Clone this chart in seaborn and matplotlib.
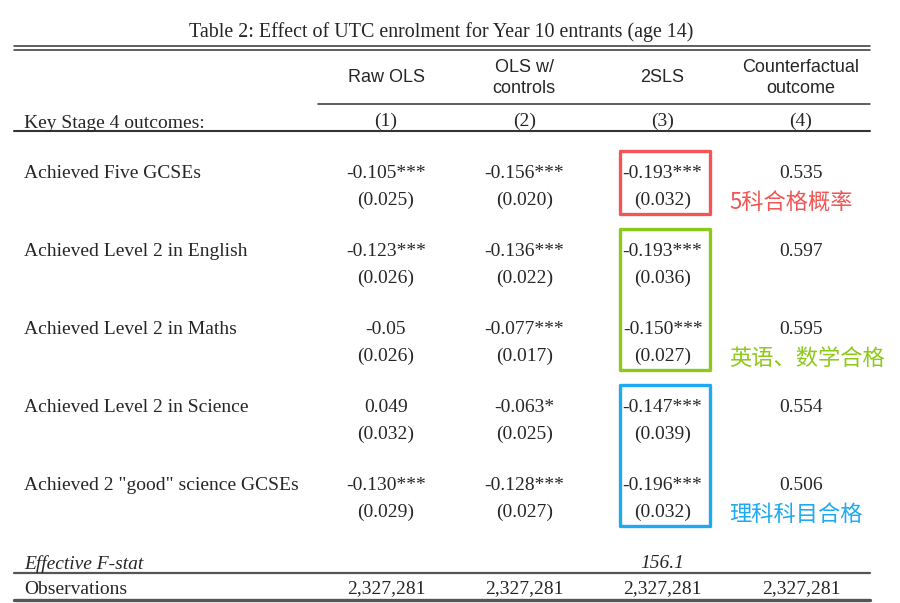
import matplotlib
matplotlib.use("Agg")
import matplotlib.pyplot as plt
import seaborn as sns
import pandas as pd
from matplotlib.patches import Rectangle

sns.set_theme(style="white")
plt.rcParams['font.family'] = ['Liberation Serif', 'Noto Sans CJK SC', 'DejaVu Sans']

# table contents
title = "Table 2: Effect of UTC enrolment for Year 10 entrants (age 14)"
col_heads = ["Raw OLS", "OLS w/\ncontrols", "2SLS", "Counterfactual\noutcome"]
col_nums = ["(1)", "(2)", "(3)", "(4)"]
outcomes = ["Achieved Five GCSEs", "Achieved Level 2 in English",
            "Achieved Level 2 in Maths", "Achieved Level 2 in Science",
            'Achieved 2 "good" science GCSEs']
raw_ols = ["-0.105***", "-0.123***", "-0.05", "0.049", "-0.130***"]
raw_se = ["(0.025)", "(0.026)", "(0.026)", "(0.032)", "(0.029)"]
ols_ctrl = ["-0.156***", "-0.136***", "-0.077***", "-0.063*", "-0.128***"]
ols_se = ["(0.020)", "(0.022)", "(0.017)", "(0.025)", "(0.027)"]
tsls = ["-0.193***", "-0.193***", "-0.150***", "-0.147***", "-0.196***"]
tsls_se = ["(0.032)", "(0.036)", "(0.027)", "(0.039)", "(0.032)"]
counterfactual = ["0.535", "0.597", "0.595", "0.554", "0.506"]
f_stat = "156.1"
observations = ["2,327,281", "2,327,281", "2,327,281", "2,327,281"]

# annotation groups on the 2SLS column: (first row, last row, label, colour)
groups = [(0, 0, "5科合格概率", "#f25555"),
          (1, 2, "英语、数学合格", "#8cc919"),
          (3, 4, "理科科目合格", "#1eaaf0")]

df = pd.DataFrame({"outcome": outcomes, "c1": raw_ols, "s1": raw_se,
                   "c2": ols_ctrl, "s2": ols_se, "c3": tsls, "s3": tsls_se,
                   "c4": counterfactual})

fig = plt.figure(figsize=(9, 6.03), dpi=100)
ax = fig.add_axes([0, 0, 1, 1])
ax.set_xlim(0, 900)
ax.set_ylim(603, 0)
ax.axis("off")

fs = 14
col_x = [386 + 138.3 * j for j in range(4)]
row_y0, row_step, se_gap = 174, 78, 26
left, right = 14, 870
line_col = "#333333"

ax.text(441, 32, title, ha="center", va="center", fontsize=14.4)
ax.plot([left, right], [46, 46], color=line_col, lw=1.1)
ax.plot([left, right], [49.5, 49.5], color=line_col, lw=1.1)

for j, h in enumerate(col_heads):
    ax.text(col_x[j], 78, h, ha="center", va="center", fontsize=13,
            family="Liberation Sans", linespacing=1.25)
    ax.text(col_x[j], 121, col_nums[j], ha="center", va="center", fontsize=fs)
ax.plot([318, right], [104, 104], color=line_col, lw=1.1)
ax.text(24, 123, "Key Stage 4 outcomes:", ha="left", va="center", fontsize=fs)
ax.plot([left, right], [131, 131], color=line_col, lw=1.5)

for i, r in df.iterrows():
    y = row_y0 + row_step * i
    ax.text(24, y, r["outcome"], ha="left", va="center", fontsize=fs)
    for j in range(4):
        ax.text(col_x[j], y, r[f"c{j+1}"], ha="center", va="center", fontsize=fs)
        if j < 3:
            ax.text(col_x[j], y + se_gap, r[f"s{j+1}"], ha="center",
                    va="center", fontsize=fs)

for a, b, label, c in groups:
    y_top = row_y0 + row_step * a - 23
    y_bot = row_y0 + row_step * b + se_gap + 14
    ax.add_patch(Rectangle((620, y_top), 90, y_bot - y_top, fill=False,
                           edgecolor=c, lw=2.4, joinstyle="round"))
    ax.text(729, y_bot - 12, label, ha="left", va="center", fontsize=16,
            color=c, family="Noto Sans CJK SC")

ax.text(24, 564, "Effective F-stat", ha="left", va="center", fontsize=fs,
        style="italic")
ax.text(col_x[2], 563, f_stat, ha="center", va="center", fontsize=fs,
        style="italic")
ax.plot([left, right], [573, 573], color="#555555", lw=1.6)
ax.text(24, 590, "Observations", ha="left", va="center", fontsize=fs)
for j, v in enumerate(observations):
    ax.text(col_x[j], 589, v, ha="center", va="center", fontsize=fs)
ax.plot([left, right], [600, 600], color="#555555", lw=2.4)

fig.savefig("out.png", dpi=100, facecolor="white")
